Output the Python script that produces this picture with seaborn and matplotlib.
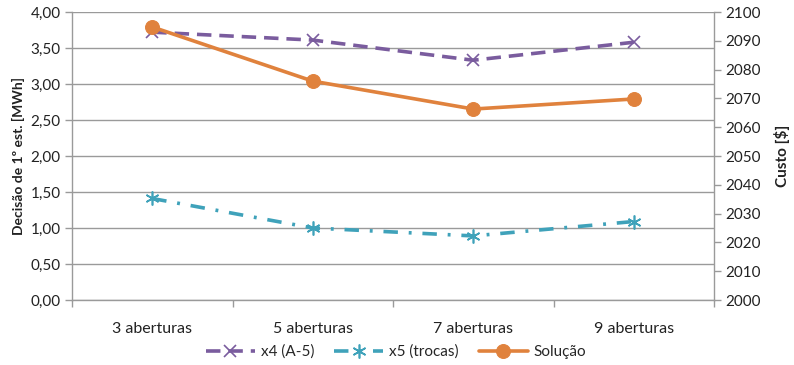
import matplotlib
matplotlib.use("Agg")
import matplotlib.pyplot as plt
import seaborn as sns
import pandas as pd
from matplotlib.ticker import FuncFormatter, FixedLocator

categories = ["3 aberturas", "5 aberturas", "7 aberturas", "9 aberturas"]
x4_values = [3.72, 3.61, 3.33, 3.58]
x5_values = [1.41, 1.00, 0.89, 1.09]
solucao_values = [2094.8, 2076.0, 2066.3, 2069.8]

sns.set_theme(style="white")
plt.rcParams['font.family'] = ['Lato', 'DejaVu Sans']
plt.rcParams['xtick.direction'] = 'out'
plt.rcParams['ytick.direction'] = 'out'

purple = "#7A5C9E"
teal = "#3FA2BA"
orange = "#E0823D"
grid_c = "#9A9A9A"
txt_c = "#222222"

fig = plt.figure(figsize=(7.94, 3.65), dpi=100)
ax = fig.add_axes([72/794, 65/365, (714-72)/794, (300-12)/365])
ax2 = ax.twinx()

df = pd.DataFrame({"cat": categories, "x4": x4_values, "x5": x5_values, "sol": solucao_values})
df["pos"] = range(len(categories))

sns.lineplot(data=df, x="pos", y="x4", ax=ax, sort=False, color=purple, lw=2.6,
             linestyle=(0, (4, 2.2)), marker="x", markersize=9, markeredgewidth=1.2,
             markeredgecolor=purple, label="x4 (A-5)", legend=False)
sns.lineplot(data=df, x="pos", y="x5", ax=ax, sort=False, color=teal, lw=2.6,
             linestyle=(0, (4, 3, 0.8, 3)), marker=(6, 2, 0), markersize=10, markeredgewidth=1.2,
             markeredgecolor=teal, label="x5 (trocas)", legend=False)
sns.lineplot(data=df, x="pos", y="sol", ax=ax2, sort=False, color=orange, lw=2.6,
             marker="o", markersize=10, markeredgecolor=orange, label="Solução", legend=False)

ax.set_xlim(-0.5, 3.5)
ax.set_ylim(0, 4)
ax2.set_ylim(2000, 2100)
ax.set_yticks([0, 0.5, 1.0, 1.5, 2.0, 2.5, 3.0, 3.5, 4.0])
ax.yaxis.set_major_formatter(FuncFormatter(lambda v, p: f"{v:.2f}".replace(".", ",")))
ax2.set_yticks(range(2000, 2101, 10))

ax.set_xticks(range(len(categories)))
ax.set_xticklabels(categories)
ax.xaxis.set_minor_locator(FixedLocator([-0.5, 0.5, 1.5, 2.5, 3.5]))
ax.tick_params(axis="x", which="major", length=0, pad=16, labelsize=11.5, labelcolor=txt_c)
ax.tick_params(axis="x", which="minor", direction="out", length=5, color=grid_c, width=1, bottom=True)
ax.tick_params(axis="y", which="major", direction="out", length=5, color=grid_c, width=1, left=True,
               labelsize=11, labelcolor=txt_c, pad=3)
ax2.tick_params(axis="y", which="major", direction="out", length=5, color=grid_c, width=1, right=True,
                labelsize=11, pad=3, labelcolor=txt_c)

ax.grid(True, axis="y", color=grid_c, lw=1)
ax.set_axisbelow(True)
for a in (ax, ax2):
    a.spines["top"].set_visible(False)
    for s in ("left", "right", "bottom"):
        a.spines[s].set_color(grid_c)
        a.spines[s].set_linewidth(1)
ax.spines["right"].set_visible(False)
ax2.spines["left"].set_visible(False)
ax2.spines["bottom"].set_visible(False)

ax.set_xlabel("")
ax.set_ylabel("Decisão de 1º est. [MWh]", fontsize=10, fontweight="bold", color=txt_c, labelpad=4)
ax2.set_ylabel("Custo [$]", fontsize=11, fontweight="bold", color=txt_c, labelpad=10)
ax2.grid(False)

h1, l1 = ax.get_legend_handles_labels()
h2, l2 = ax2.get_legend_handles_labels()
fig.legend(h1 + h2, l1 + l2, loc="center", bbox_to_anchor=(396/794, 1 - 352/365), ncol=3,
           frameon=False, fontsize=11, handlelength=3.2, columnspacing=1.3, handletextpad=0.4)

fig.savefig("out.png", dpi=100)
